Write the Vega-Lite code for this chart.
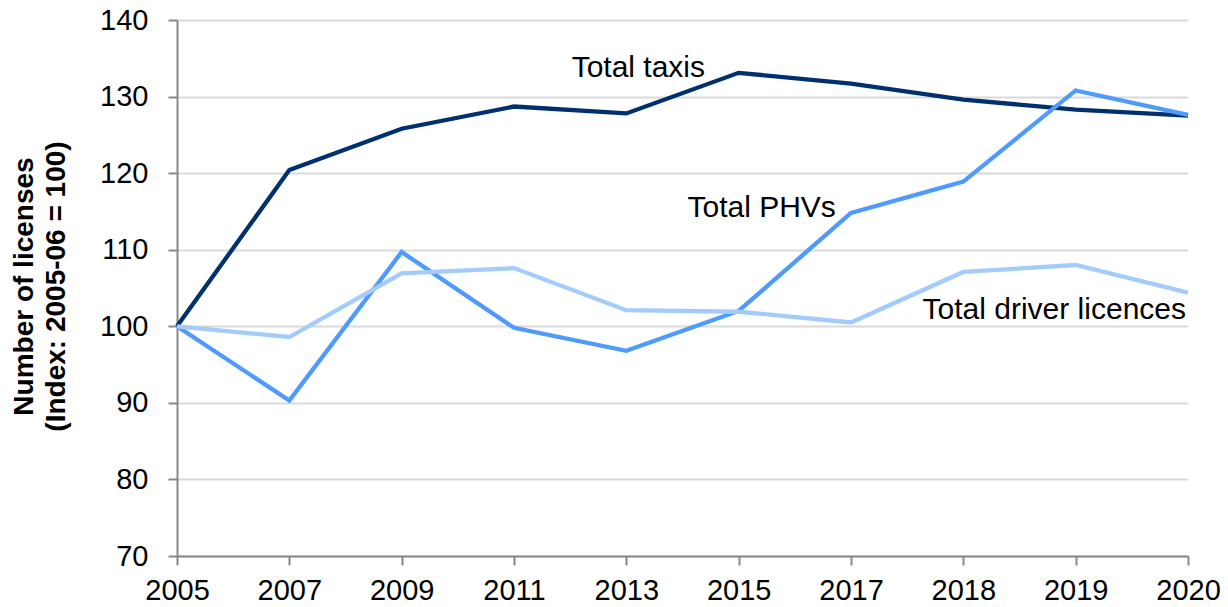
{
  "$schema": "https://vega.github.io/schema/vega-lite/v6.json",
  "autosize": {"type": "none"},
  "width": 1011,
  "height": 536,
  "padding": {"left": 177, "top": 20, "right": 40, "bottom": 51},
  "background": "white",
  "config": {
    "view": {"stroke": null},
    "font": "Liberation Sans",
    "axis": {"labelFont": "Liberation Sans", "titleFont": "Liberation Sans"}
  },
  "datasets": {
    "series": [
      {"year": "2005", "series": "Total taxis", "value": 100},
      {"year": "2007", "series": "Total taxis", "value": 120.4},
      {"year": "2009", "series": "Total taxis", "value": 125.8},
      {"year": "2011", "series": "Total taxis", "value": 128.7},
      {"year": "2013", "series": "Total taxis", "value": 127.8},
      {"year": "2015", "series": "Total taxis", "value": 133.1},
      {"year": "2017", "series": "Total taxis", "value": 131.7},
      {"year": "2018", "series": "Total taxis", "value": 129.6},
      {"year": "2019", "series": "Total taxis", "value": 128.3},
      {"year": "2020", "series": "Total taxis", "value": 127.5},
      {"year": "2005", "series": "Total PHVs", "value": 100},
      {"year": "2007", "series": "Total PHVs", "value": 90.3},
      {"year": "2009", "series": "Total PHVs", "value": 109.7},
      {"year": "2011", "series": "Total PHVs", "value": 99.8},
      {"year": "2013", "series": "Total PHVs", "value": 96.8},
      {"year": "2015", "series": "Total PHVs", "value": 102.0},
      {"year": "2017", "series": "Total PHVs", "value": 114.8},
      {"year": "2018", "series": "Total PHVs", "value": 118.9},
      {"year": "2019", "series": "Total PHVs", "value": 130.8},
      {"year": "2020", "series": "Total PHVs", "value": 127.6},
      {"year": "2005", "series": "Total driver licences", "value": 100},
      {"year": "2007", "series": "Total driver licences", "value": 98.6},
      {"year": "2009", "series": "Total driver licences", "value": 106.9},
      {"year": "2011", "series": "Total driver licences", "value": 107.6},
      {"year": "2013", "series": "Total driver licences", "value": 102.1},
      {"year": "2015", "series": "Total driver licences", "value": 101.9},
      {"year": "2017", "series": "Total driver licences", "value": 100.5},
      {"year": "2018", "series": "Total driver licences", "value": 107.1},
      {"year": "2019", "series": "Total driver licences", "value": 108.0},
      {"year": "2020", "series": "Total driver licences", "value": 104.4}
    ],
    "labels": [
      {"year": "2013", "label": "Total taxis", "value": 132.6},
      {"year": "2015", "label": "Total PHVs", "value": 114.3},
      {"year": "2020", "label": "Total driver licences", "value": 100.9}
    ]
  },
  "layer": [
    {
      "data": {"name": "series"},
      "mark": {"type": "line", "strokeWidth": 4.3, "strokeJoin": "miter"},
      "encoding": {
        "x": {
          "field": "year", "type": "ordinal",
          "scale": {"type": "point", "padding": 0},
          "axis": {
            "title": null, "labelAngle": 0, "labelFontSize": 29, "labelColor": "#000000",
            "labelPadding": 11, "tickSize": 9, "tickColor": "#888888", "tickWidth": 2,
            "domainColor": "#888888", "domainWidth": 2, "grid": false
          }
        },
        "y": {
          "field": "value", "type": "quantitative",
          "scale": {"domain": [70, 140], "zero": false, "nice": false},
          "axis": {
            "values": [70, 80, 90, 100, 110, 120, 130, 140],
            "title": ["Number of licenses", "(Index: 2005-06 = 100)"],
            "titleFontSize": 28, "titleFontWeight": "bold", "titleColor": "#000000",
            "titleAngle": -90, "titleAlign": "center", "titleBaseline": "top",
            "titleX": -167, "titleY": 266, "titleLineHeight": 32,
            "labelFontSize": 29, "labelColor": "#000000", "labelPadding": 20,
            "tickSize": 9, "tickColor": "#888888", "tickWidth": 2,
            "domainColor": "#888888", "domainWidth": 2,
            "grid": true, "gridColor": "#d9d9d9", "gridWidth": 2
          }
        },
        "color": {
          "field": "series", "type": "nominal",
          "scale": {
            "domain": ["Total taxis", "Total driver licences", "Total PHVs"],
            "range": ["#00306e", "#a3cbfb", "#4f9bfd"]
          },
          "legend": null
        },
        "order": {"value": 0}
      }
    },
    {
      "data": {"name": "labels"},
      "transform": [{"filter": "datum.label === 'Total taxis'"}],
      "mark": {"type": "text", "fontSize": 30, "align": "center", "baseline": "alphabetic", "dx": 12, "color": "#000000"},
      "encoding": {
        "x": {"field": "year", "type": "ordinal"},
        "y": {"field": "value", "type": "quantitative"},
        "text": {"field": "label"}
      }
    },
    {
      "data": {"name": "labels"},
      "transform": [{"filter": "datum.label === 'Total PHVs'"}],
      "mark": {"type": "text", "fontSize": 30, "align": "center", "baseline": "alphabetic", "dx": 23, "color": "#000000"},
      "encoding": {
        "x": {"field": "year", "type": "ordinal"},
        "y": {"field": "value", "type": "quantitative"},
        "text": {"field": "label"}
      }
    },
    {
      "data": {"name": "labels"},
      "transform": [{"filter": "datum.label === 'Total driver licences'"}],
      "mark": {"type": "text", "fontSize": 30, "align": "right", "baseline": "alphabetic", "dx": -2, "color": "#000000"},
      "encoding": {
        "x": {"field": "year", "type": "ordinal"},
        "y": {"field": "value", "type": "quantitative"},
        "text": {"field": "label"}
      }
    }
  ]
}
